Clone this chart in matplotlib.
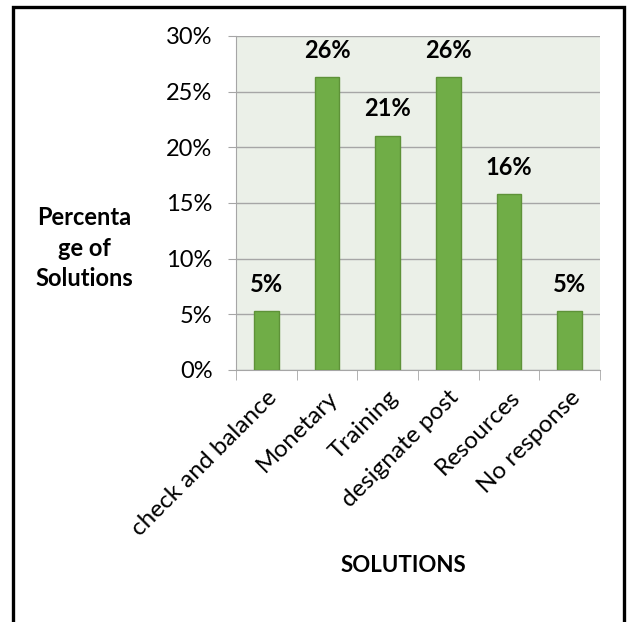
#!/usr/bin/env python3
"""Bar chart of proposed solutions -> out.png"""
import matplotlib
matplotlib.use("Agg")
import matplotlib.pyplot as plt
from matplotlib.patches import Rectangle
from matplotlib.ticker import FixedLocator, PercentFormatter
import numpy as np

categories = ["check and balance", "Monetary", "Training", "designate post", "Resources", "No response"]
shares = [1 / 19, 5 / 19, 4 / 19, 5 / 19, 3 / 19, 1 / 19]
value_labels = ["5%", "26%", "21%", "26%", "16%", "5%"]

BAR = "#70AD47"; EDGE = "#5E9238"; BG = "#EBF0E8"; GRID = "#A6A6A6"
plt.rcParams.update({"font.family": ["Lato", "DejaVu Sans"], "font.size": 17})

fig = plt.figure(figsize=(6.29, 6.22), dpi=100)
ax = fig.add_axes([236 / 629, 252 / 622, 364 / 629, 334 / 622])
ax.set_facecolor(BG)

x = np.arange(len(categories))
ax.bar(x, shares, 0.41, color=BAR, edgecolor=EDGE, linewidth=1, zorder=3)
for xi, v, lab in zip(x, shares, value_labels):
    ax.annotate(lab, (xi, v), xytext=(0, 11), textcoords="offset points",
                ha="center", va="bottom", fontweight="bold", fontsize=17)

ax.set_xlim(-0.5, len(categories) - 0.5); ax.set_ylim(0, 0.30)
ax.yaxis.set_major_locator(FixedLocator(np.arange(0, 0.31, 0.05)))
ax.yaxis.set_major_formatter(PercentFormatter(1.0, decimals=0))
ax.grid(axis="y", color=GRID, lw=1, zorder=0)
for s in ["top", "right"]:
    ax.spines[s].set_visible(False)
ax.spines["left"].set_color(GRID); ax.spines["bottom"].set_color(GRID)
ax.tick_params(axis="y", length=6, color=GRID, pad=11, labelsize=17)

ax.set_xticks(x)
ax.set_xticklabels(categories, rotation=45, ha="right", rotation_mode="anchor", fontsize=17.5)
ax.tick_params(axis="x", which="major", length=0, pad=12)
ax.xaxis.set_minor_locator(FixedLocator(np.arange(-0.5, len(categories), 1.0)))
ax.tick_params(axis="x", which="minor", length=7, color=GRID)

fig.text(84 / 629, 1 - 248 / 622, "Percenta\nge of\nSolutions", ha="center", va="center",
         fontweight="bold", fontsize=17, linespacing=1.42)
fig.text(403 / 629, 1 - 566 / 622, "SOLUTIONS", ha="center", va="center",
         fontweight="bold", fontsize=16)

fig.patches.append(Rectangle((13 / 629, -0.05), 611 / 629, 1.05 - 7 / 622,
                             transform=fig.transFigure, fill=False, ec="black", lw=2.4))

fig.savefig("out.png", dpi=100)
